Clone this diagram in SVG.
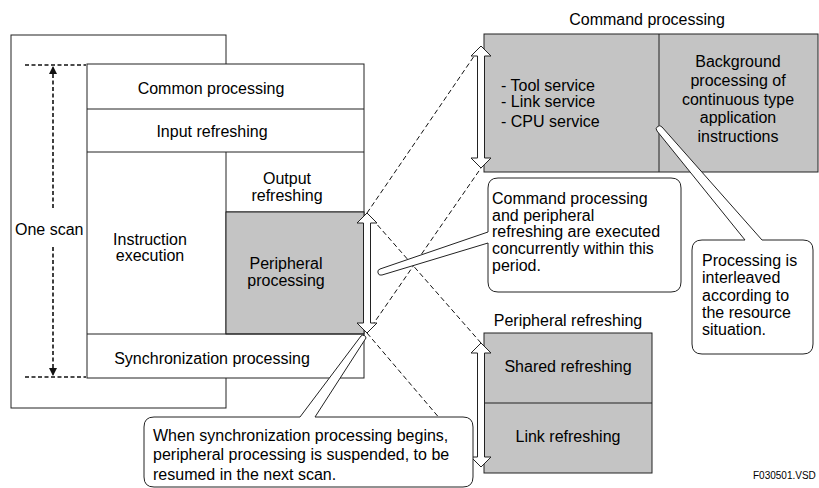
<svg xmlns="http://www.w3.org/2000/svg" width="819" height="488" viewBox="0 0 819 488">
<style>
text{font-family:"Liberation Sans",Arial,sans-serif;font-size:16px;fill:#000}
.c{text-anchor:middle}
.box{fill:#fff;stroke:#222;stroke-width:1}
.gray{fill:#c4c4c4;stroke:#222;stroke-width:1}
.ln{fill:none;stroke:#222;stroke-width:1}
.dash{fill:none;stroke:#111;stroke-width:1;stroke-dasharray:5,3}
.dash2{fill:none;stroke:#111;stroke-width:1.6;stroke-dasharray:4,2.5}
.arr{fill:#fff;stroke:#222;stroke-width:1}
.call{fill:#fff;stroke:#222;stroke-width:1}
</style>
<defs>
<marker id="ah" viewBox="0 0 8 10" refX="8" refY="5" markerWidth="8" markerHeight="10" markerUnits="userSpaceOnUse" orient="auto">
<path d="M0,1 L8,5 L0,9 Z" fill="#111"/>
</marker>
</defs>

<g id="scan-frame">
<rect class="box" x="11" y="35" width="215" height="373"/>
</g>

<g id="connectors">
<line class="dash2" x1="25" y1="65" x2="86" y2="65"/>
<line class="dash2" x1="25" y1="377" x2="86" y2="377"/>
<line class="dash2" x1="53" y1="208" x2="53" y2="66" marker-end="url(#ah)"/>
<line class="dash2" x1="53" y1="247" x2="53" y2="376" marker-end="url(#ah)"/>
<line class="dash" x1="367" y1="213" x2="481" y2="46"/>
<line class="dash" x1="367" y1="333" x2="481" y2="168"/>
<line class="dash" x1="367" y1="213" x2="481" y2="343"/>
<line class="dash" x1="367" y1="333" x2="481" y2="467"/>
</g>

<g id="one-scan-label">
<text x="15" y="235">One scan</text>
</g>

<g id="scan">
<rect class="box" x="87" y="64" width="277" height="314"/>
<line class="ln" x1="87" y1="109" x2="364" y2="109"/>
<line class="ln" x1="87" y1="152" x2="364" y2="152"/>
<line class="ln" x1="226" y1="152" x2="226" y2="334"/>
<line class="ln" x1="226" y1="212" x2="364" y2="212"/>
<rect class="gray" x="226" y="212" width="138" height="122"/>
<line class="ln" x1="87" y1="334" x2="364" y2="334"/>
<text class="c" x="211" y="94">Common processing</text>
<text class="c" x="212" y="137">Input refreshing</text>
<text class="c" x="150" y="245">Instruction</text>
<text class="c" x="150" y="261">execution</text>
<text class="c" x="287" y="184">Output</text>
<text class="c" x="287" y="201">refreshing</text>
<text class="c" x="286" y="269">Peripheral</text>
<text class="c" x="286" y="286">processing</text>
<text class="c" x="212" y="364">Synchronization processing</text>
</g>

<g id="command-processing">
<text class="c" x="647" y="25">Command processing</text>
<rect class="gray" x="484" y="34" width="334" height="138"/>
<line class="ln" x1="659" y1="34" x2="659" y2="172"/>
<text x="501" y="91">- Tool service</text>
<text x="501" y="107">- Link service</text>
<text x="501" y="127">- CPU service</text>
<text class="c" x="738" y="67">Background</text>
<text class="c" x="738" y="86">processing of</text>
<text class="c" x="738" y="104.5">continuous type</text>
<text class="c" x="738" y="123">application</text>
<text class="c" x="738" y="142">instructions</text>
</g>

<g id="peripheral-refreshing">
<text class="c" x="568" y="326">Peripheral refreshing</text>
<rect class="gray" x="484" y="333" width="168" height="140"/>
<line class="ln" x1="484" y1="403" x2="652" y2="403"/>
<text class="c" x="568" y="372">Shared refreshing</text>
<text class="c" x="568" y="442">Link refreshing</text>
</g>

<g id="period-arrows">
<path class="arr" d="M481,46 L491,56 L484.5,56 L484.5,158 L491,158 L481,168 L471,158 L477.5,158 L477.5,56 L471,56 Z"/>
<path class="arr" d="M367,213 L377,223 L370.5,223 L370.5,323 L377,323 L367,333 L357,323 L363.5,323 L363.5,223 L357,223 Z"/>
<path class="arr" d="M481,343 L491,353 L484.5,353 L484.5,457 L491,457 L481,467 L471,457 L477.5,457 L477.5,353 L471,353 Z"/>
</g>

<g id="callout-concurrent">
<path class="call" d="M498,178 H671 Q681,178 681,188 V282 Q681,292 671,292 H498 Q488,292 488,282 V243 L382,275 A3,3 0 0 1 380,269 L488,232 V188 Q488,178 498,178 Z"/>
<text x="492" y="203.5">Command processing</text>
<text x="492" y="220.5">and peripheral</text>
<text x="492" y="237">refreshing are executed</text>
<text x="492" y="254">concurrently within this</text>
<text x="492" y="271">period.</text>
</g>

<g id="callout-interleaved">
<path class="call" d="M702,240 H745 L657,131 A3,3 0 0 1 662,127 L762,240 H803 Q813,240 813,250 V344 Q813,354 803,354 H702 Q692,354 692,344 V250 Q692,240 702,240 Z"/>
<text x="702" y="266">Processing is</text>
<text x="702" y="283">interleaved</text>
<text x="702" y="300.5">according to</text>
<text x="702" y="318">the resource</text>
<text x="702" y="335">situation.</text>
</g>

<g id="callout-suspended">
<path class="call" d="M154,417 H300 L361,336 A3,3 0 0 1 366,338 L315,417 H463 Q473,417 473,427 V477 Q473,487 463,487 H154 Q144,487 144,477 V427 Q144,417 154,417 Z"/>
<text x="153" y="440.5">When synchronization processing begins,</text>
<text x="153" y="460">peripheral processing is suspended, to be</text>
<text x="153" y="479.5">resumed in the next scan.</text>
</g>

<g id="file-id">
<text x="753" y="479" style="font-size:10px">F030501.VSD</text>
</g>
</svg>
